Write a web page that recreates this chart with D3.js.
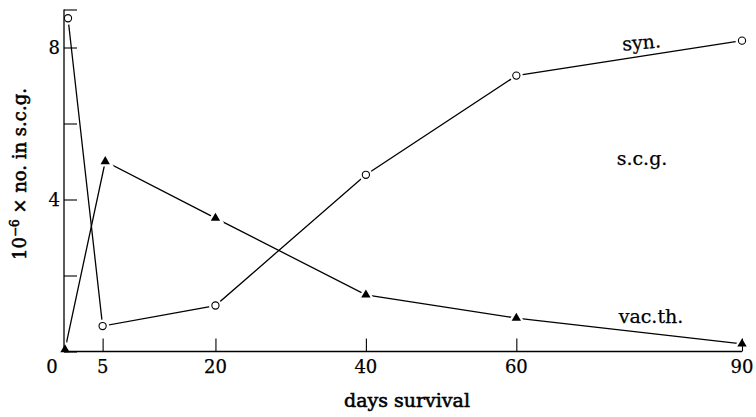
<!DOCTYPE html>
<html><head><meta charset="utf-8">
<script src="https://cdn.jsdelivr.net/npm/d3@7"></script>
<style>
html,body{margin:0;padding:0;background:#fff;}
svg text{font-family:"DejaVu Serif",serif;fill:#000;stroke:#000;stroke-width:0.25px;}
svg text.title{stroke-width:0.55px;}
</style></head>
<body><svg id="c" width="756" height="417"></svg>
<script>
// Data
const synDays = [0.4, 5, 20, 40, 60, 90];
const synValues = [8.77, 0.67, 1.21, 4.65, 7.26, 8.18];
const vacDays = [0, 5.35, 20, 40, 60, 90];
const vacValues = [0.05, 5.0, 3.51, 1.49, 0.88, 0.2];
const xTicks = [5, 20, 40, 60, 90];
const yTicks = [0, 2, 4, 6, 8, 9];
const yTickLabels = ["", "", "4", "", "8", ""];
const seriesLabels = ["syn.", "s.c.g.", "vac.th."];

const svg = d3.select("#c");
const x = d3.scaleLinear().domain([0, 90]).range([65, 742]);
const y = d3.scaleLinear().domain([0, 9]).range([351.5, 9.5]);
const ink = "#000";

const syn = synDays.map((d, i) => [d, synValues[i]]);
const vac = vacDays.map((d, i) => [d, vacValues[i]]);

// lines
const line = d3.line().x(d => x(d[0])).y(d => y(d[1]));
[syn, vac].forEach(s => svg.append("path").attr("d", line(s)).attr("fill", "none")
  .attr("stroke", ink).attr("stroke-width", 1.3));

// white halos (gap between line and marker)
svg.append("g").selectAll("circle").data(syn).join("circle")
  .attr("cx", d => x(d[0])).attr("cy", d => y(d[1])).attr("r", 6.5).attr("fill", "#fff");
const triHalo = d3.symbol(d3.symbolTriangle, 130);
svg.append("g").selectAll("path").data(vac).join("path")
  .attr("transform", d => `translate(${x(d[0])},${y(d[1])})`).attr("d", triHalo).attr("fill", "#fff");

// axes
const xAxis = svg.append("g").attr("transform", `translate(0,${y(0)})`)
  .call(d3.axisTop(x).tickValues(xTicks).tickSize(13).tickFormat(""));
xAxis.select(".domain").attr("d", `M${x(0)-1},0H${x(90)}`).attr("stroke", ink).attr("stroke-width", 1.3);
xAxis.selectAll(".tick line").attr("stroke", ink).attr("stroke-width", 1.1);

const yAxis = svg.append("g").attr("transform", `translate(${x(0)-1},0)`)
  .call(d3.axisRight(y).tickValues(yTicks).tickSize(13).tickFormat(""));
yAxis.select(".domain").attr("d", `M0,${y(9)}V${y(0)}`).attr("stroke", ink).attr("stroke-width", 1.3);
yAxis.selectAll(".tick line").attr("stroke", ink).attr("stroke-width", 1.1);

// markers
svg.append("g").selectAll("circle").data(syn).join("circle")
  .attr("cx", d => x(d[0])).attr("cy", d => y(d[1])).attr("r", 3.6)
  .attr("fill", "#fff").attr("stroke", ink).attr("stroke-width", 1.1);
const tri = d3.symbol(d3.symbolTriangle, 38);
svg.append("g").selectAll("path").data(vac).join("path")
  .attr("transform", d => `translate(${x(d[0])},${y(d[1])})`).attr("d", tri).attr("fill", ink);

// tick labels
svg.append("g").selectAll("text").data(xTicks).join("text")
  .attr("x", d => x(d)).attr("y", 373).attr("text-anchor", "middle")
  .attr("font-size", 18).text(d => d);
svg.append("text").attr("x", x(0) - 13).attr("y", 373).attr("text-anchor", "middle")
  .attr("font-size", 18).text("0");
svg.append("g").selectAll("text").data(yTicks.map((d, i) => [d, yTickLabels[i]]).filter(d => d[1])).join("text")
  .attr("x", x(0) - 5).attr("y", d => y(d[0])).attr("dy", "0.36em").attr("text-anchor", "end")
  .attr("font-size", 18).text(d => d[1]);

// axis titles
svg.append("text").attr("class", "title").attr("x", 407).attr("y", 407).attr("text-anchor", "middle")
  .attr("font-size", 19).text("days survival");
const yl = svg.append("text").attr("class", "title").attr("transform", "translate(26,174) rotate(-90)")
  .attr("text-anchor", "middle").attr("font-size", 18);
yl.append("tspan").text("10");
yl.append("tspan").attr("dy", -7).attr("font-size", 12).text("\u22126");
yl.append("tspan").attr("dy", 7).text(" \u00d7 no. in s.c.g.");

// series labels
svg.append("text").attr("transform", "translate(642,49) rotate(-5)").attr("text-anchor", "middle")
  .attr("font-size", 19).text(seriesLabels[0]);
svg.append("text").attr("x", 642).attr("y", 165).attr("text-anchor", "middle")
  .attr("font-size", 19).text(seriesLabels[1]);
svg.append("text").attr("x", 651).attr("y", 323).attr("text-anchor", "middle")
  .attr("font-size", 19).text(seriesLabels[2]);
</script></body></html>
